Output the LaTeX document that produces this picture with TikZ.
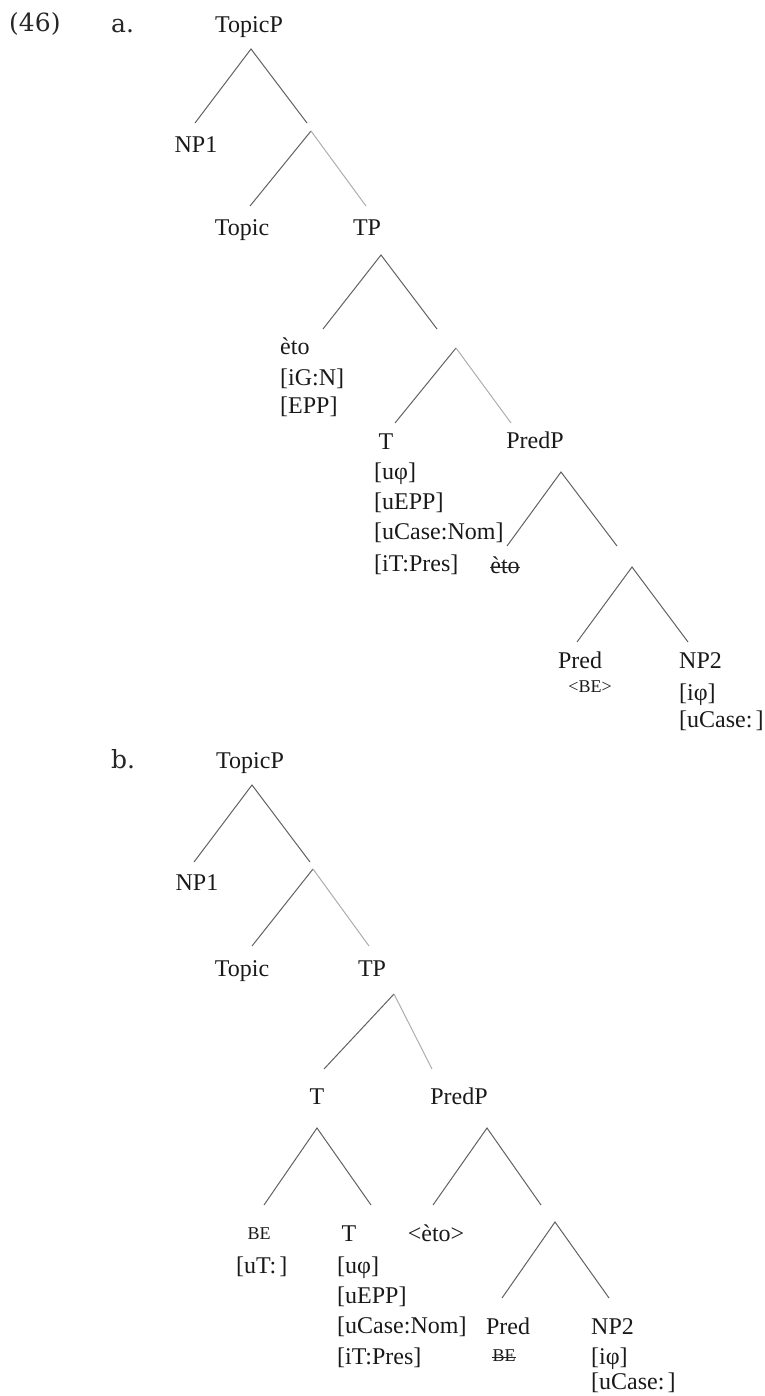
\documentclass[tikz,border=0pt]{standalone}
\usepackage{fontspec}
\setmainfont{Liberation Serif}
\newfontfamily\labfont{DejaVu Serif}
\newcommand{\gapsp}{\hspace{3pt}}
\begin{document}
\begin{tikzpicture}[x=1pt,y=-1pt,
  lbl/.style={inner sep=0pt, font=\fontsize{24}{29}\selectfont, text height=17pt, text depth=5pt, text=black!90},
  smc/.style={inner sep=0pt, font=\fontsize{18}{22}\selectfont, text height=13pt, text depth=4pt, text=black!90},
  exlab/.style={inner sep=0pt, font=\labfont\fontsize{25}{30}\selectfont, text height=17pt, text depth=5pt, text=black!85},
  br/.style={draw=black!62, line width=1pt},
  brl/.style={draw=black!32, line width=1pt},
  strike/.style={draw=black!85, line width=1pt}]
\useasboundingbox (0,0) rectangle (764,1396);

% ---------------- (46) a. ----------------
\node[exlab, anchor=west] (n46) at (9,26) {(46)};
\node[exlab, anchor=west] (la) at (111,27) {a.};

\node[lbl] (aTopicP) at (249,27) {TopicP};
\node[lbl] (aNP1) at (196,147) {NP1};
\node[lbl] (aTopic) at (242,230) {Topic};
\node[lbl] (aTP) at (367,230) {TP};
\node[lbl, anchor=west] (aEto) at (280,348) {èto};
\node[lbl, anchor=west] (aEtoG) at (280,379) {[iG:N]};
\node[lbl, anchor=west] (aEtoE) at (280,407) {[EPP]};
\node[lbl] (aT) at (386,443) {T};
\node[lbl, anchor=west] (aTphi) at (374,473) {[uφ]};
\node[lbl, anchor=west] (aTepp) at (374,503) {[uEPP]};
\node[lbl, anchor=west] (aTcase) at (374,533) {[uCase:Nom]};
\node[lbl, anchor=west] (aTtense) at (374,565) {[iT:Pres]};
\node[lbl] (aPredP) at (535,442) {PredP};
\node[lbl] (aEtoCopy) at (505,567) {èto};
\draw[strike] (aEtoCopy.west) -- (aEtoCopy.east);
\node[lbl] (aPred) at (580,662) {Pred};
\node[smc] (aBE) at (590,688) {<BE>};
\node[lbl, anchor=west] (aNP2) at (679,662) {NP2};
\node[lbl, anchor=west] (aNP2phi) at (679,694) {[iφ]};
\node[lbl, anchor=west] (aNP2case) at (679,721) {[uCase:\gapsp]};

% branching points and branch ends (a)
\coordinate (a0) at (251,49);  \coordinate (a0l) at (195,123); \coordinate (a0r) at (307,123);
\coordinate (a1) at (311,131); \coordinate (a1l) at (250,206); \coordinate (a1r) at (366,206);
\coordinate (a2) at (381,255); \coordinate (a2l) at (323,329); \coordinate (a2r) at (437,329);
\coordinate (a3) at (456,348); \coordinate (a3l) at (395,423); \coordinate (a3r) at (511,423);
\coordinate (a4) at (561,472); \coordinate (a4l) at (507,546); \coordinate (a4r) at (617,546);
\coordinate (a5) at (632,567); \coordinate (a5l) at (577,642); \coordinate (a5r) at (688,642);

\draw[br] (a0l) -- (a0) -- (a0r);
\draw[br] (a1l) -- (a1); \draw[brl] (a1) -- (a1r);
\draw[br] (a2l) -- (a2) -- (a2r);
\draw[br] (a3l) -- (a3); \draw[brl] (a3) -- (a3r);
\draw[br] (a4l) -- (a4) -- (a4r);
\draw[br] (a5l) -- (a5) -- (a5r);

% ---------------- b. ----------------
\node[exlab, anchor=west] (lb) at (111,762) {b.};

\node[lbl] (bTopicP) at (250,762) {TopicP};
\node[lbl] (bNP1) at (197,884) {NP1};
\node[lbl] (bTopic) at (242,970) {Topic};
\node[lbl] (bTP) at (372,970) {TP};
\node[lbl] (bT) at (317,1098) {T};
\node[lbl] (bPredP) at (459,1098) {PredP};
\node[smc] (bBE) at (259,1235) {BE};
\node[lbl, anchor=west] (bBEt) at (236,1267) {[uT:\gapsp]};
\node[lbl] (bT2) at (349,1235) {T};
\node[lbl, anchor=west] (bTphi) at (337,1267) {[uφ]};
\node[lbl, anchor=west] (bTepp) at (337,1297) {[uEPP]};
\node[lbl, anchor=west] (bTcase) at (337,1327) {[uCase:Nom]};
\node[lbl, anchor=west] (bTtense) at (337,1358) {[iT:Pres]};
\node[lbl] (bEto) at (436,1235) {<èto>};
\node[lbl] (bPred) at (508,1328) {Pred};
\node[smc] (bBEcopy) at (504,1357) {BE};
\draw[strike] (bBEcopy.west) -- (bBEcopy.east);
\node[lbl, anchor=west] (bNP2) at (591,1328) {NP2};
\node[lbl, anchor=west] (bNP2phi) at (591,1358) {[iφ]};
\node[lbl, anchor=west] (bNP2case) at (591,1383) {[uCase:\gapsp]};

% branching points and branch ends (b)
\coordinate (b0) at (252,785);  \coordinate (b0l) at (194,862);  \coordinate (b0r) at (310,862);
\coordinate (b1) at (313,869);  \coordinate (b1l) at (252,946);  \coordinate (b1r) at (369,946);
\coordinate (b2) at (394,994);  \coordinate (b2l) at (324,1069); \coordinate (b2r) at (432,1069);
\coordinate (b3) at (317,1128); \coordinate (b3l) at (264,1205); \coordinate (b3r) at (371,1205);
\coordinate (b4) at (487,1128); \coordinate (b4l) at (433,1205); \coordinate (b4r) at (541,1205);
\coordinate (b5) at (555,1222); \coordinate (b5l) at (502,1298); \coordinate (b5r) at (609,1298);

\draw[br] (b0l) -- (b0) -- (b0r);
\draw[br] (b1l) -- (b1); \draw[brl] (b1) -- (b1r);
\draw[br] (b2l) -- (b2); \draw[brl] (b2) -- (b2r);
\draw[br] (b3l) -- (b3) -- (b3r);
\draw[br] (b4l) -- (b4) -- (b4r);
\draw[br] (b5l) -- (b5) -- (b5r);
\end{tikzpicture}
\end{document}
